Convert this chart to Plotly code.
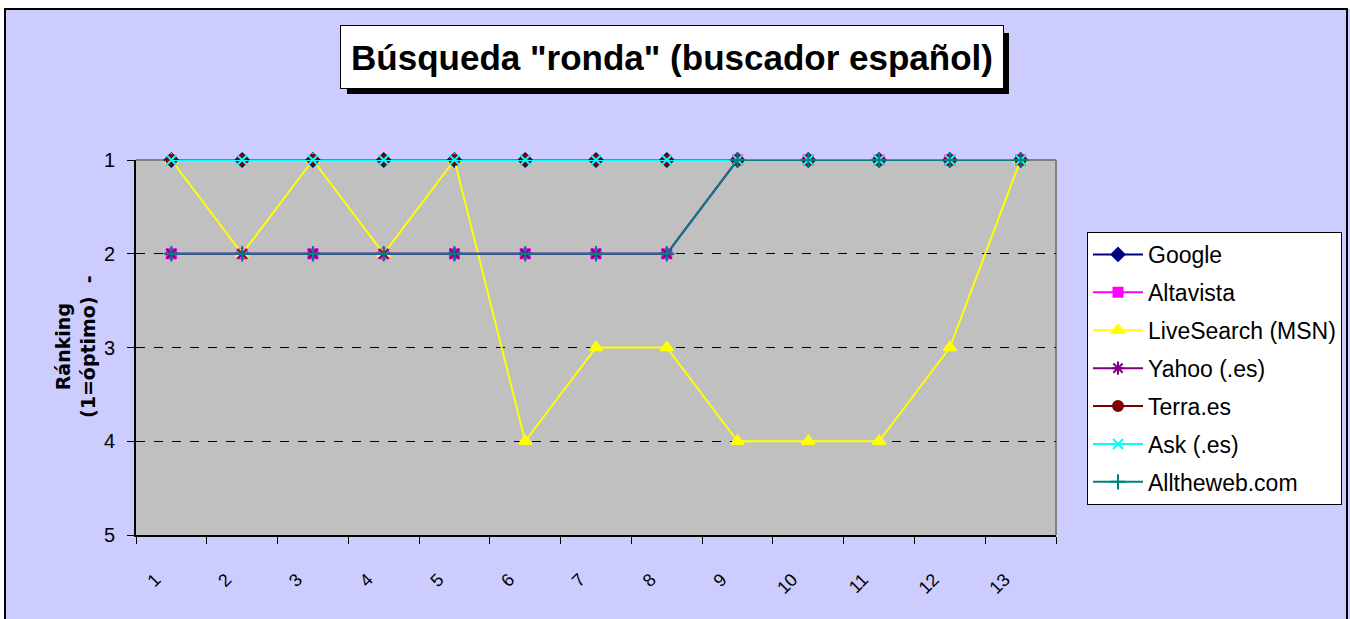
import plotly.graph_objects as go

categories = [str(i) for i in range(1, 14)]
google = [1, 1, 1, 1, 1, 1, 1, 1, 1, 1, 1, 1, 1]
altavista = [2, 2, 2, 2, 2, 2, 2, 2, 1, 1, 1, 1, 1]
livesearch = [1, 2, 1, 2, 1, 4, 3, 3, 4, 4, 4, 3, 1]
yahoo = [2, 2, 2, 2, 2, 2, 2, 2, 1, 1, 1, 1, 1]
terra = [1, 1, 1, 1, 1, 1, 1, 1, 1, 1, 1, 1, 1]
ask = [1, 1, 1, 1, 1, 1, 1, 1, 1, 1, 1, 1, 1]
alltheweb = [2, 2, 2, 2, 2, 2, 2, 2, 1, 1, 1, 1, 1]
y_ticks = [1, 2, 3, 4, 5]

FONT = "Liberation Sans, Arial, sans-serif"

series = [
    ("Google", google, "#000080", "diamond", 10),
    ("Altavista", altavista, "#FF00FF", "square", 9),
    ("LiveSearch (MSN)", livesearch, "#FFFF00", "triangle-up", 11),
    ("Yahoo (.es)", yahoo, "#800080", "asterisk-open", 11),
    ("Terra.es", terra, "#800000", "circle", 10),
    ("Ask (.es)", ask, "#00FFFF", "x-thin-open", 10),
    ("Alltheweb.com", alltheweb, "#008080", "cross-thin-open", 11),
]

fig = go.Figure()
for name, vals, color, sym, size in series:
    fig.add_trace(go.Scatter(
        x=categories, y=vals, name=name, mode="lines+markers",
        legendgroup=name, cliponaxis=False,
        line=dict(color=color, width=2),
        marker=dict(symbol=sym, size=size, color=color,
                    line=dict(color=color, width=2)),
    ))

# plot area: x 136..1056, y 160..535
L, R, T, B = 136, 1056, 160, 535
W, H = R - L, B - T


def px(x):
    return (x - L) / W


def py(y):
    return (B - y) / H


shapes = [
    dict(type="rect", xref="paper", yref="paper", x0=px(0), x1=px(1350), y0=py(9), y1=py(0),
         fillcolor="white", line=dict(width=0), layer="above"),
    dict(type="rect", xref="paper", yref="paper", x0=px(0), x1=px(5), y0=py(619), y1=py(0),
         fillcolor="white", line=dict(width=0), layer="above"),
    dict(type="rect", xref="paper", yref="paper", x0=px(5), x1=px(1347), y0=py(625), y1=py(9),
         fillcolor="rgba(0,0,0,0)", line=dict(color="black", width=2), layer="above"),
    dict(type="line", xref="paper", yref="paper", x0=0, x1=1, y0=1, y1=1,
         line=dict(color="#808080", width=2), layer="below"),
    dict(type="line", xref="paper", yref="paper", x0=1, x1=1, y0=0, y1=1,
         line=dict(color="#808080", width=2), layer="below"),
    # title shadow
    dict(type="rect", xref="paper", yref="paper", x0=px(347), x1=px(1009), y0=py(94), y1=py(33),
         fillcolor="black", line=dict(width=0), layer="above"),
]

title_text = "<b>Búsqueda \"ronda\" (buscador español)</b>"
tx, ty = px(672), py(57)
annotations = [
    dict(text=title_text, xref="paper", yref="paper", x=tx, y=ty, showarrow=False,
         xanchor="center", yanchor="middle", width=660, height=60,
         font=dict(family=FONT, size=35, color="black"),
         bgcolor="white", bordercolor="black", borderwidth=1),
    dict(text="<b>Ránking<br>(1=óptimo)  -</b>", xref="paper", yref="paper",
         x=px(75), y=py(347), showarrow=False, textangle=-90,
         xanchor="center", yanchor="middle",
         font=dict(family="DejaVu Sans, sans-serif", size=19, color="black")),
]

fig.update_layout(
    width=1350, height=619,
    margin=dict(l=L, r=1350 - R, t=T, b=619 - B, pad=0, autoexpand=False),
    paper_bgcolor="#CCCCFF",
    plot_bgcolor="#C0C0C0",
    font=dict(family=FONT, color="black", size=20),
    showlegend=True,
    legend=dict(
        x=px(1087), y=py(232), xanchor="left", yanchor="top",
        bgcolor="white", bordercolor="black", borderwidth=1,
        font=dict(family=FONT, size=23, color="black"),
        tracegroupgap=5, traceorder="grouped", itemwidth=50,
    ),
    shapes=shapes,
    annotations=annotations,
)

fig.update_xaxes(
    type="category", categoryorder="array", categoryarray=categories,
    range=[-0.5, 12.5], tickson="boundaries",
    ticks="outside", ticklen=7, tickcolor="black", tickwidth=1,
    showline=True, linecolor="black", linewidth=2,
    showgrid=False, tickangle=-45, ticklabelstandoff=25, ticklabelshift=-16,
    tickfont=dict(family=FONT, size=18, color="black"),
)
fig.update_yaxes(
    range=[5, 1], tickvals=y_ticks, ticktext=[str(v) for v in y_ticks],
    ticks="outside", ticklen=7, tickcolor="black", tickwidth=1,
    showline=True, linecolor="black", linewidth=2,
    showgrid=True, gridcolor="black", griddash="dash", gridwidth=1,
    zeroline=False, ticklabelstandoff=8,
    tickfont=dict(family=FONT, size=20, color="black"),
)

fig.write_html("out.html", config={"displayModeBar": False},
               post_script="document.body.style.margin='0';")
